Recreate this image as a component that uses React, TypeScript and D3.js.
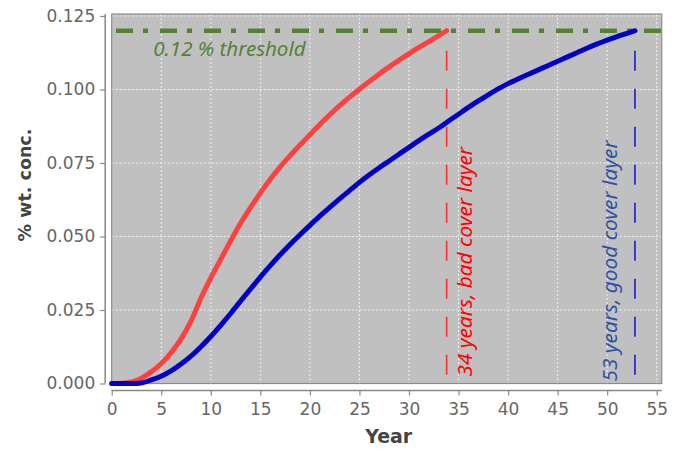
import React, { useEffect, useRef } from "react";
import * as d3 from "d3";

// concentration curves (year, % wt.)
const badYears = [0, 1, 2, 3, 4, 5, 6, 7, 8, 9, 10, 11, 12, 13, 14, 15, 16, 17, 18, 19, 20,
  21, 22, 23, 24, 25, 26, 27, 28, 29, 30, 31, 32, 33, 33.8];
const badConc = [0, 0.0001, 0.0005, 0.0018, 0.004, 0.0068, 0.0105, 0.0152, 0.0212, 0.029, 0.0359,
  0.0422, 0.0485, 0.0545, 0.0598, 0.0648, 0.0695, 0.0737, 0.0775, 0.0811, 0.0846,
  0.0881, 0.0914, 0.0945, 0.0974, 0.1001, 0.1027, 0.1053, 0.1077, 0.11, 0.1122,
  0.1143, 0.1163, 0.1183, 0.12];

const goodYears = [0, 1, 2, 3, 4, 5, 6, 7, 8, 9, 10, 11, 12, 13, 14, 15, 16, 17, 18, 19, 20,
  21, 22, 23, 24, 25, 26, 27, 28, 29, 30, 31, 32, 33, 34, 35, 36, 37, 38, 39, 40,
  41, 42, 43, 44, 45, 46, 47, 48, 49, 50, 51, 52, 52.8];
const goodConc = [0, 0, 0, 0.0002, 0.0012, 0.0025, 0.0043, 0.0066, 0.0093, 0.0125, 0.016,
  0.0198, 0.0238, 0.028, 0.0321, 0.0362, 0.0401, 0.0438, 0.0473, 0.0506, 0.0538,
  0.0569, 0.0599, 0.0628, 0.0656, 0.0684, 0.071, 0.0734, 0.0757, 0.078, 0.0803,
  0.0826, 0.0848, 0.0869, 0.0893, 0.0916, 0.0939, 0.0961, 0.0982, 0.1002, 0.102,
  0.1036, 0.1051, 0.1066, 0.1081, 0.1096, 0.1111, 0.1126, 0.1141, 0.1155, 0.1168,
  0.118, 0.1191, 0.12];

const xTicks = [0, 5, 10, 15, 20, 25, 30, 35, 40, 45, 50, 55];
const yTicks = [0, 0.025, 0.05, 0.075, 0.1, 0.125];

const threshold = 0.12;
const thresholdLabel = "0.12 % threshold";
const breakYears = [33.8, 52.8];
const breakLabels = ["34 years, bad cover layer", "53 years, good cover layer"];

const App = () => {
  const ref = useRef<SVGSVGElement>(null);

  useEffect(() => {
    document.body.style.margin = "0";
    const svg = d3.select(ref.current);
    svg.selectAll("*").remove();

    const x = d3.scaleLinear().domain([0, 55.5]).range([111.7, 661.7]);
    const y = d3.scaleLinear().domain([0, 0.12568]).range([383.5, 14]);
    const [x0, x1] = x.range();
    const [y0, y1] = y.range();

    // plot background
    svg.append("rect")
      .attr("x", x0).attr("y", y1)
      .attr("width", x1 - x0).attr("height", y0 - y1)
      .attr("fill", "#c0c0c0");

    // grid
    const grid = svg.append("g")
      .attr("stroke", "#efefef")
      .attr("stroke-width", 1)
      .attr("stroke-dasharray", "2,2");
    grid.selectAll("line.v")
      .data(xTicks.filter((d) => d > 0))
      .enter().append("line")
      .attr("x1", (d) => x(d)).attr("x2", (d) => x(d))
      .attr("y1", y1).attr("y2", y0);
    grid.selectAll("line.h")
      .data(yTicks.filter((d) => d > 0))
      .enter().append("line")
      .attr("x1", x0).attr("x2", x1)
      .attr("y1", (d) => y(d)).attr("y2", (d) => y(d));

    // plot frame
    svg.append("rect")
      .attr("x", x0).attr("y", y1)
      .attr("width", x1 - x0).attr("height", y0 - y1)
      .attr("fill", "none")
      .attr("stroke", "#8c8c8c")
      .attr("stroke-width", 1.2);

    // axes, drawn a few pixels away from the plot
    const xAxis = svg.append("g")
      .attr("transform", `translate(0,${y0 + 7})`)
      .call(d3.axisBottom(x).tickValues(xTicks).tickSize(5).tickPadding(7).tickFormat(d3.format("d")));
    const yAxis = svg.append("g")
      .attr("transform", `translate(${x0 - 6.5},0)`)
      .call(d3.axisLeft(y).tickValues(yTicks).tickSize(5).tickPadding(5).tickFormat(d3.format(".3f")));
    [xAxis, yAxis].forEach((ax) => {
      ax.select(".domain").attr("stroke", "#888").attr("stroke-width", 1.5);
      ax.selectAll(".tick line").attr("stroke", "#888").attr("stroke-width", 1.2);
      ax.selectAll(".tick text")
        .attr("fill", "#666")
        .style("font-family", "'DejaVu Sans', sans-serif")
        .style("font-size", "17px");
    });
    // trim domain to plot extent (no outer ticks)
    xAxis.select(".domain").attr("d", `M${x0},0H${x1}`);
    yAxis.select(".domain").attr("d", `M0,${y1}V${y0}`);

    // axis titles
    svg.append("text")
      .attr("x", (x0 + x1) / 2 + 2).attr("y", 443)
      .attr("text-anchor", "middle")
      .attr("fill", "#444")
      .style("font-family", "'DejaVu Sans', sans-serif")
      .style("font-weight", "bold")
      .style("font-size", "19px")
      .text("Year");
    svg.append("text")
      .attr("transform", `translate(31,185) rotate(-90)`)
      .attr("text-anchor", "middle")
      .attr("fill", "#444")
      .style("font-family", "'DejaVu Sans', sans-serif")
      .style("font-weight", "bold")
      .style("font-size", "17.5px")
      .text("% wt. conc.");

    // threshold
    svg.append("line")
      .attr("x1", x(0.43)).attr("x2", x1)
      .attr("y1", y(threshold)).attr("y2", y(threshold))
      .attr("stroke", "#548235")
      .attr("stroke-width", 4.5)
      .attr("stroke-dasharray", "17,10,5,12");
    svg.append("text")
      .attr("x", x(4.2)).attr("y", y(threshold) + 25)
      .attr("fill", "#548235")
      .style("font-family", "'Noto Sans', sans-serif")
      .style("font-style", "italic")
      .style("font-size", "20.5px")
      .text(thresholdLabel);

    // breakthrough markers
    const markColors = ["#ff3030", "#1a1acc"];
    const labelColors = ["#ff0000", "#2f52a3"];
    breakYears.forEach((yr, i) => {
      svg.append("line")
        .attr("x1", x(yr)).attr("x2", x(yr))
        .attr("y1", y(threshold) + 20).attr("y2", y0)
        .attr("stroke", markColors[i])
        .attr("stroke-width", 1.6)
        .attr("stroke-dasharray", "20,18");
      const lx = i === 0 ? x(yr) + 25 : x(yr) - 17.5;
      const ly = i === 0 ? y0 - 7 : y0 - 2;
      svg.append("text")
        .attr("transform", `translate(${lx},${ly}) rotate(-90)`)
        .attr("fill", labelColors[i])
        .style("font-family", "'Noto Sans', sans-serif")
        .style("font-style", "italic")
        .style("font-size", "20.8px")
        .text(breakLabels[i]);
    });

    // curves
    const line = d3.line<[number, number]>()
      .x((d) => x(d[0]))
      .y((d) => y(d[1]))
      .curve(d3.curveMonotoneX);
    const series = [
      { pts: badYears.map((d, i) => [d, badConc[i]] as [number, number]), color: "#ff4040" },
      { pts: goodYears.map((d, i) => [d, goodConc[i]] as [number, number]), color: "#0000c8" },
    ];
    series.forEach((s) => {
      svg.append("path")
        .datum(s.pts)
        .attr("d", line)
        .attr("fill", "none")
        .attr("stroke", s.color)
        .attr("stroke-width", 5)
        .attr("stroke-linecap", "round")
        .attr("stroke-linejoin", "round");
    });
  }, []);

  return (
    <svg ref={ref} width={682} height={453} style={{ display: "block", background: "#fff" }} />
  );
};

export default App;
